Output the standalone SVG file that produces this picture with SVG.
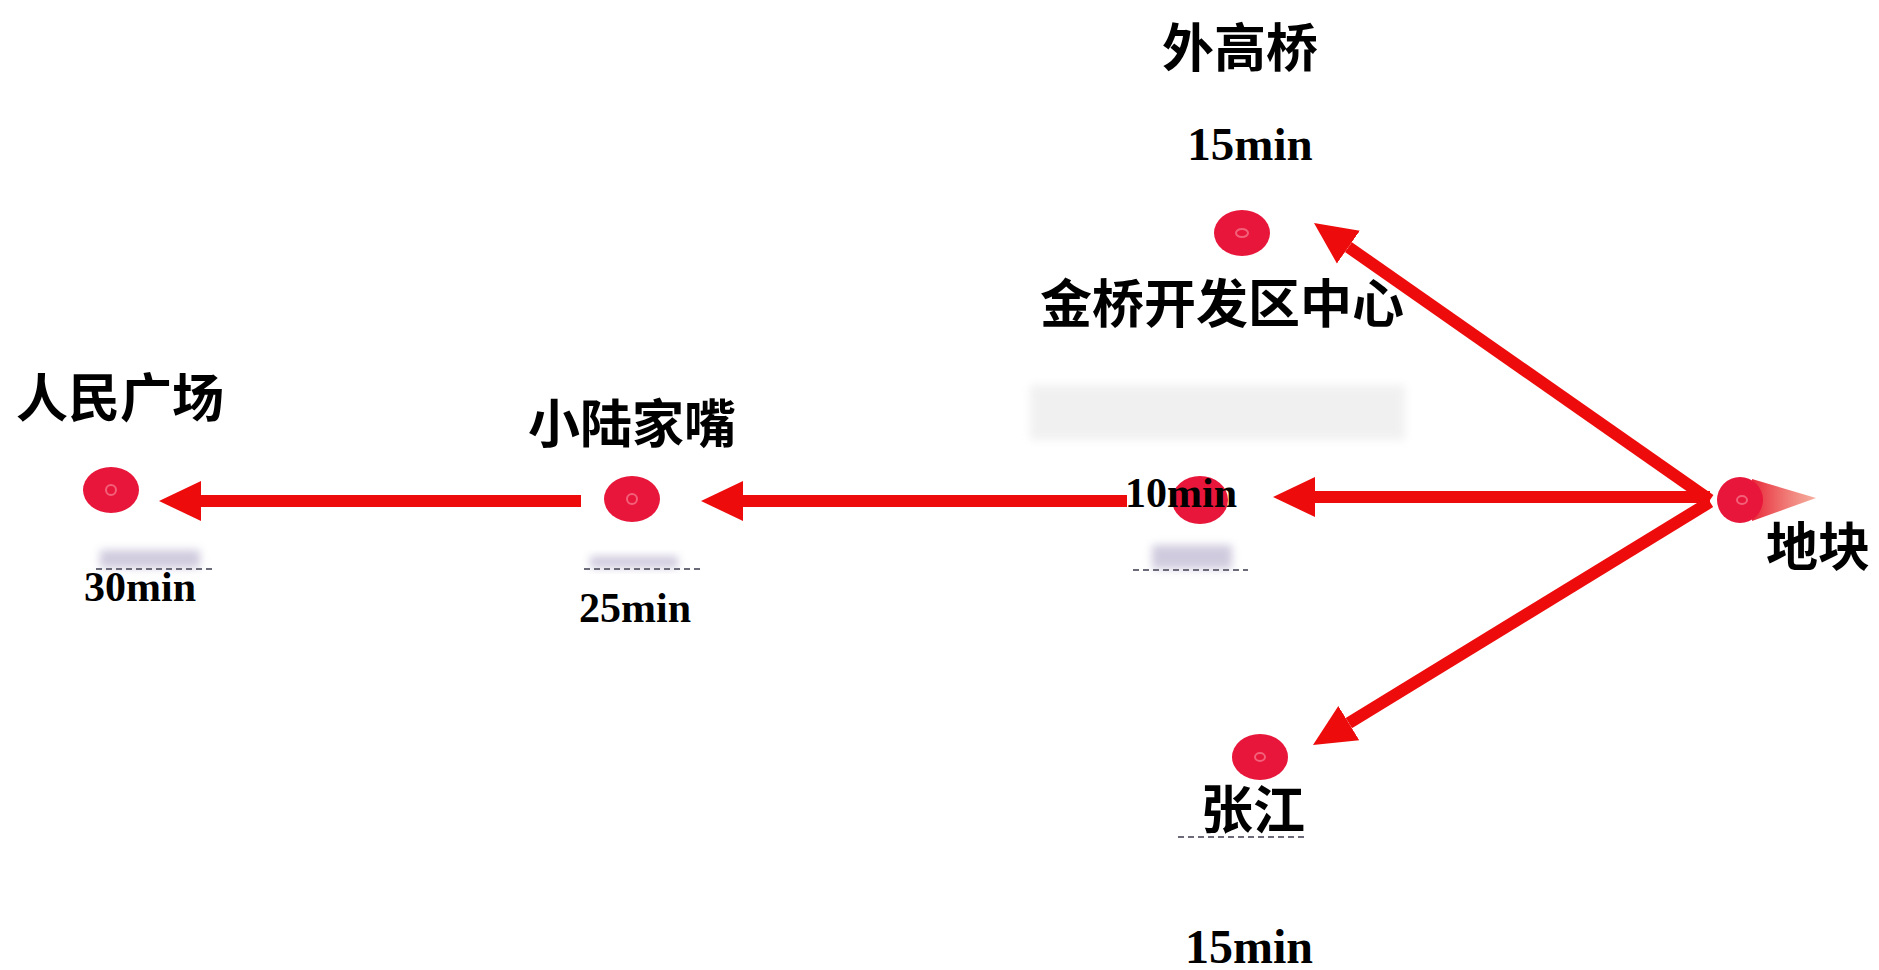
<svg xmlns="http://www.w3.org/2000/svg" width="1879" height="970" viewBox="0 0 1879 970">
<style>
.cjk{font-family:"Noto Sans CJK SC","Noto Sans",sans-serif;font-weight:700;font-size:52px;fill:#000;text-anchor:middle}
.num{font-family:"Liberation Serif","Times New Roman",serif;font-weight:700;fill:#000;text-anchor:middle}
.dot{fill:#e8163a}
.core{fill:none;stroke:#f3607a;stroke-width:2}
.conn{stroke:#ee0b0b;stroke-width:12;fill:none}
.smudge{fill:#b0a8c8;opacity:0.6;filter:url(#blur)}
.dash{stroke:#6a6a78;stroke-width:2;stroke-dasharray:6 4}
</style>
<defs>
<marker id="ah" markerUnits="userSpaceOnUse" markerWidth="46" markerHeight="44" viewBox="0 -22 46 44" refX="0" refY="0" orient="auto">
<path d="M0,-20 L42,0 L0,20 Z" fill="#ee0b0b"/>
</marker>
<filter id="blur" x="-20%" y="-50%" width="140%" height="200%"><feGaussianBlur stdDeviation="4"/></filter>
<linearGradient id="tail" x1="0" y1="0" x2="1" y2="0">
<stop offset="0" stop-color="#e8283a"/>
<stop offset="1" stop-color="#ef7a60" stop-opacity="0.6"/>
</linearGradient>
</defs>
<rect width="1879" height="970" fill="#fff"/>
<g id="background-smudges">
<rect x="1030" y="385" width="375" height="55" fill="#dcdcdc" opacity="0.4" filter="url(#blur)"/>
<rect x="100" y="550" width="100" height="18" class="smudge"/>
<line x1="96" y1="569" x2="213" y2="569" class="dash"/>
<rect x="590" y="556" width="88" height="12" class="smudge"/>
<line x1="584" y1="569" x2="703" y2="569" class="dash"/>
<rect x="1152" y="545" width="80" height="24" class="smudge"/>
<line x1="1133" y1="570" x2="1248" y2="570" class="dash"/>
<line x1="1178" y1="837" x2="1305" y2="837" class="dash"/>
</g>
<g id="connectors">
<line class="conn" x1="1710" y1="500" x2="1348.4" y2="247.1" marker-end="url(#ah)"/>
<line class="conn" x1="1710" y1="497" x2="1315" y2="497" marker-end="url(#ah)"/>
<line class="conn" x1="1710" y1="502" x2="1348.8" y2="723.1" marker-end="url(#ah)"/>
<line class="conn" x1="1127" y1="501" x2="743" y2="501" marker-end="url(#ah)"/>
<line class="conn" x1="581" y1="501" x2="201" y2="501" marker-end="url(#ah)"/>
</g>
<g id="node-dikuai">
<polygon points="1752,479 1816,498 1752,521" fill="url(#tail)"/>
<circle class="dot" cx="1740" cy="500" r="23"/>
<ellipse class="core" cx="1742" cy="500" rx="5" ry="4"/>
<text class="cjk" x="1818" y="566">地块</text>
</g>
<g id="node-waigaoqiao">
<ellipse class="dot" cx="1242" cy="233" rx="28" ry="23"/>
<ellipse class="core" cx="1242" cy="233" rx="6" ry="4"/>
<text class="cjk" x="1240" y="67">外高桥</text>
<text class="num" x="1250" y="160" font-size="47">15min</text>
<text class="cjk" x="1222" y="323">金桥开发区中心</text>
</g>
<g id="node-10min">
<ellipse class="dot" cx="1200" cy="500" rx="28" ry="24"/>
<text class="num" x="1181" y="507" font-size="42">10min</text>
</g>
<g id="node-xiaolujiazui">
<ellipse class="dot" cx="632" cy="499" rx="28" ry="23"/>
<ellipse class="core" cx="632" cy="499" rx="5" ry="5"/>
<text class="cjk" x="632" y="443">小陆家嘴</text>
<text class="num" x="635" y="622" font-size="42">25min</text>
</g>
<g id="node-renminguangchang">
<ellipse class="dot" cx="111" cy="490" rx="28" ry="23"/>
<ellipse class="core" cx="111" cy="490" rx="5" ry="5"/>
<text class="cjk" x="120" y="417">人民广场</text>
<text class="num" x="140" y="601" font-size="42">30min</text>
</g>
<g id="node-zhangjiang">
<ellipse class="dot" cx="1260" cy="757" rx="28" ry="23"/>
<ellipse class="core" cx="1260" cy="757" rx="5" ry="4"/>
<text class="cjk" x="1253" y="829">张江</text>
<text class="num" x="1249" y="963" font-size="48">15min</text>
</g>
</svg>
